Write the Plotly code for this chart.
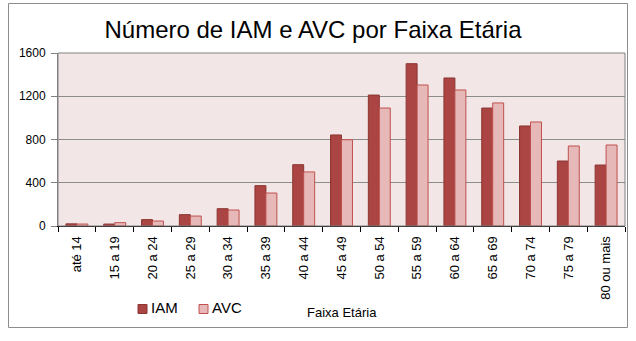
import plotly.graph_objects as go

faixas = ["até 14", "15 a 19", "20 a 24", "25 a 29", "30 a 34", "35 a 39", "40 a 44",
          "45 a 49", "50 a 54", "55 a 59", "60 a 64", "65 a 69", "70 a 74", "75 a 79",
          "80 ou mais"]
iam = [20, 18, 59, 105, 160, 373, 567, 842, 1211, 1501, 1369, 1091, 925, 601, 564]
avc = [18, 31, 46, 92, 148, 305, 500, 798, 1091, 1304, 1258, 1138, 962, 740, 749]
y_ticks = [0, 400, 800, 1200, 1600]

FONT = "Liberation Sans, Arial, sans-serif"
IAM_FILL, IAM_LINE = "#AA4543", "#8C3532"
AVC_FILL, AVC_LINE = "#E6B9B8", "#C0504D"

fig = go.Figure()
fig.add_trace(go.Bar(
    x=faixas, y=iam, name="IAM",
    marker=dict(color=IAM_FILL, line=dict(color=IAM_LINE, width=1)),
))
fig.add_trace(go.Bar(
    x=faixas, y=avc, name="AVC",
    marker=dict(color=AVC_FILL, line=dict(color=AVC_LINE, width=1)),
))

W, H = 636, 341
L, R, T, B = 58, 11, 53, 115
pw, ph = W - L - R, H - T - B

def px_x(x):
    return (x - L) / pw

def px_y(y):
    return (H - B - y) / ph

# legend keys drawn as small squares with text beside them
legend_items = [("IAM", IAM_FILL, IAM_LINE, 138), ("AVC", AVC_FILL, AVC_LINE, 199)]
legend_shapes = []
legend_notes = []
for name, fill, line, x0 in legend_items:
    legend_shapes.append(dict(
        type="rect", xref="paper", yref="paper",
        x0=px_x(x0), x1=px_x(x0 + 9), y0=px_y(313.5), y1=px_y(304.5),
        fillcolor=fill, line=dict(color=line, width=1)))
    legend_notes.append(dict(
        text=name, xref="paper", yref="paper", x=px_x(x0 + 11), y=px_y(307),
        xanchor="left", yanchor="middle", showarrow=False,
        font=dict(size=15, family=FONT, color="black")))

fig.update_layout(
    width=W, height=H,
    margin=dict(l=L, r=R, t=T, b=B, autoexpand=False),
    paper_bgcolor="white",
    plot_bgcolor="#F2E6E6",
    barmode="group",
    bargap=0.42,
    bargroupgap=0,
    font=dict(family=FONT, color="black"),
    title=dict(text="Número de IAM e AVC por Faixa Etária",
               x=px_x(313), xref="paper", xanchor="center",
               y=1 - 30 / H, yanchor="middle",
               font=dict(size=24, family=FONT, color="black")),
    showlegend=False,
    xaxis=dict(
        tickangle=-90, tickfont=dict(size=13, family=FONT),
        ticks="outside", ticklen=5, tickcolor="black", tickson="boundaries",
        showline=True, linecolor="black", linewidth=1,
        showgrid=False, ticklabelstandoff=4,
    ),
    yaxis=dict(
        range=[0, 1600], tickvals=y_ticks, tickfont=dict(size=12, family=FONT),
        ticks="outside", ticklen=6, tickcolor="#808080",
        showline=True, linecolor="#808080", linewidth=1,
        showgrid=True, gridcolor="#8C8C8C", gridwidth=1,
        zeroline=False, ticklabelstandoff=3,
    ),
    shapes=[
        # plot area frame
        dict(type="rect", xref="paper", yref="paper", x0=0, x1=1, y0=0, y1=1,
             line=dict(color="#808080", width=1), layer="above"),
        # outer chart border
        dict(type="rect", xref="paper", yref="paper",
             x0=px_x(8.5), x1=px_x(627.5), y0=px_y(327.5), y1=px_y(3.5),
             line=dict(color="#8C8C8C", width=1)),
    ] + legend_shapes,
    annotations=[
        dict(text="Faixa Etária", xref="paper", yref="paper",
             x=px_x(342), y=px_y(312), xanchor="center", yanchor="middle",
             showarrow=False, font=dict(size=13, family=FONT)),
    ] + legend_notes,
)

fig.write_html("out.html")
